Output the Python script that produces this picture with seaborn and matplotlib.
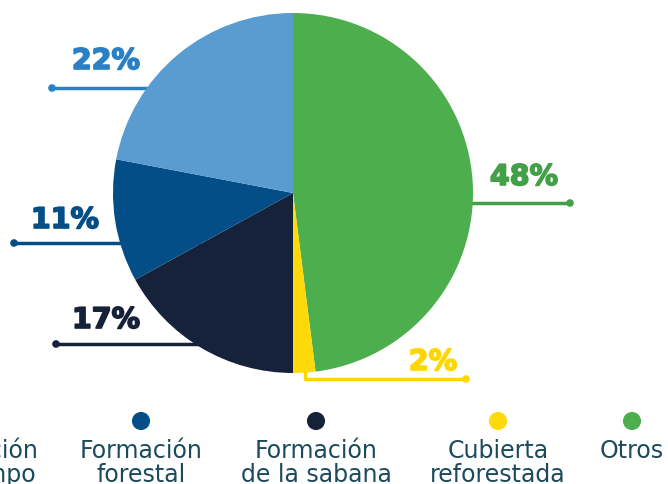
import matplotlib
matplotlib.use("Agg")
import matplotlib.pyplot as plt
import matplotlib.patheffects as pe
import seaborn as sns
import pandas as pd

# Chart data
categories = ["Otros", "Cubierta\nreforestada", "Formación\nde la sabana",
              "Formación\nforestal", "Formación\nde campo"]
values = [48, 2, 17, 11, 22]

# Styles
slice_colors = ["#4CAE4C", "#FFD908", "#16213A", "#034E87", "#589CD2"]
label_colors = ["#43A047", "#FFD600", "#16213A", "#034E87", "#2A80C4"]
text_color = "#1C4A5C"

W, H = 668, 484


def py(y):
    # pixel row (from top) -> data y
    return H - y


sns.set_theme(style="white")
plt.rcParams["font.family"] = ["DejaVu Sans"]

fig = plt.figure(figsize=(W / 100, H / 100), dpi=100)
ax = fig.add_axes([0, 0, 1, 1])

# Pie, clockwise from 12 o'clock
ax.pie(values, colors=slice_colors, startangle=90, counterclock=False,
       center=(293, py(193)), radius=180, frame=True,
       wedgeprops=dict(linewidth=0, zorder=3))

# Leader lines: (path points in px, label x, label baseline in px)
leaders = [
    ([(570, 203), (380, 203)], 524, 185),
    ([(466, 379), (305, 379), (305, 350)], 433, 370),
    ([(56, 344), (230, 344)], 106, 328),
    ([(14, 243), (200, 243)], 65, 228),
    ([(52, 88), (200, 88)], 106, 69),
]

dots = []
for i, (path, tx, ty) in enumerate(leaders):
    xs = [p[0] for p in path]
    ys = [py(p[1]) for p in path]
    ax.plot(xs, ys, color=label_colors[i], lw=2.5, zorder=1,
            solid_capstyle="butt")
    dots.append({"x": path[0][0], "y": py(path[0][1]), "c": label_colors[i]})
    ax.text(tx, py(ty), f"{values[i]}%", color=label_colors[i],
            fontsize=20.5, fontweight="bold", ha="center", va="baseline",
            zorder=4,
            path_effects=[pe.withStroke(linewidth=1.2,
                                        foreground=label_colors[i])])

dot_df = pd.DataFrame(dots)
sns.scatterplot(data=dot_df, x="x", y="y", hue="c", palette=list(dot_df["c"]),
                s=30, linewidth=0, legend=False, ax=ax, zorder=2)

# Bottom legend
legend_x = [632, 498, 316, 141, -23]
leg_df = pd.DataFrame({"x": legend_x, "y": [py(421)] * 5, "cat": categories})
sns.scatterplot(data=leg_df, x="x", y="y", hue="cat",
                palette=dict(zip(categories, slice_colors)),
                s=170, linewidth=0, legend=False, ax=ax, clip_on=False)
for x, cat in zip(legend_x, categories):
    for k, line in enumerate(cat.split("\n")):
        ax.text(x, py(458 + 24 * k), line, color=text_color, fontsize=17,
                ha="center", va="baseline")

ax.set_xlim(0, W)
ax.set_ylim(0, H)
ax.set_aspect("equal")
ax.axis("off")

fig.savefig("out.png", dpi=100)
